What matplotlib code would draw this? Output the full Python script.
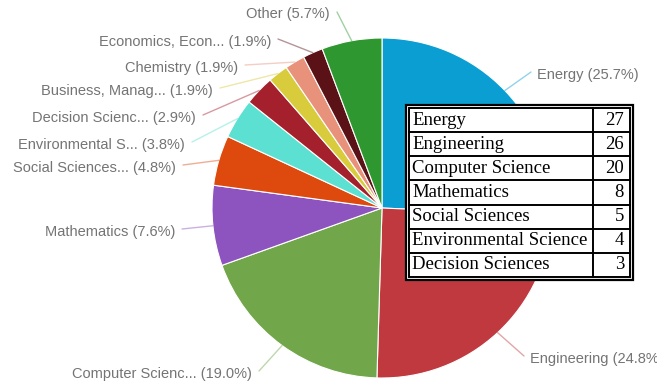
import numpy as np
import matplotlib
matplotlib.use("Agg")
import matplotlib.pyplot as plt
from matplotlib.patches import Rectangle

# slice data (counts out of 105 documents)
subjects = ["Energy", "Engineering", "Computer Science", "Mathematics",
            "Social Sciences", "Environmental Science", "Decision Sciences",
            "Business, Management", "Chemistry", "Economics, Econometrics", "Other"]
short_names = ["Energy", "Engineering", "Computer Scienc...", "Mathematics",
               "Social Sciences...", "Environmental S...", "Decision Scienc...",
               "Business, Manag...", "Chemistry", "Economics, Econ...", "Other"]
counts = [27, 26, 20, 8, 5, 4, 3, 2, 2, 2, 6]
colors = ["#0b9ed2", "#c0393f", "#72a64a", "#8d53bf", "#de4a0e", "#5ce0d2",
          "#a5202d", "#d8cc3c", "#e8917b", "#5a1216", "#2f9730"]

# table content
table_names = ["Energy", "Engineering", "Computer Science", "Mathematics",
               "Social Sciences", "Environmental Science", "Decision Sciences"]
table_counts = [27, 26, 20, 8, 5, 4, 3]

# layout (pixel coordinates, y downward)
W, H = 657, 385
CX, CY, R = 382, 208, 170
label_pos = [(537, 75, "left"), (530, 359, "left"), (252, 374, "right"),
             (175, 232, "right"), (176, 168, "right"), (185, 145, "right"),
             (196, 118, "right"), (213, 91, "right"), (238, 68, "right"),
             (271, 42, "right"), (330, 14, "right")]


def main() -> None:
    fig = plt.figure(figsize=(W / 100, H / 100), dpi=100)
    ax = fig.add_axes([0, 0, 1, 1])

    # y axis is inverted, so counterclock in data = clockwise on screen
    wedges, _ = ax.pie(counts, colors=colors, center=(CX, CY), radius=R,
                       startangle=-90, counterclock=True,
                       wedgeprops=dict(edgecolor="white", linewidth=0.8))

    total = sum(counts)
    cum = np.cumsum([0] + counts) / total
    for i, name in enumerate(short_names):
        mid = (cum[i] + cum[i + 1]) / 2 * 2 * np.pi
        ex = CX + R * np.sin(mid)
        ey = CY - R * np.cos(mid)
        tx, ty, ha = label_pos[i]
        lx = tx - 6 if ha == "left" else tx + 7
        if name == "Other":
            lx, ty_line = tx + 7, ty - 2
        else:
            ty_line = ty - 3
        ax.plot([ex, lx], [ey, ty_line], color=colors[i], alpha=0.45, lw=1.0,
                solid_capstyle="round")
        ax.text(tx, ty, f"{name} ({100 * counts[i] / total:.1f}%)", ha=ha,
                va="center", fontsize=10.5, color="#747474",
                family=["Liberation Sans", "DejaVu Sans"])

    # table drawn like an html table with double border
    x0, x1, xd = 406, 633, 593
    y0, y1 = 105, 280
    ax.add_patch(Rectangle((x0, y0), x1 - x0, y1 - y0, facecolor="white",
                           edgecolor="black", lw=1.6, zorder=5))
    ix0, ix1, iy0, iy1 = x0 + 3, x1 - 3, y0 + 3, y1 - 3
    ax.add_patch(Rectangle((ix0, iy0), ix1 - ix0, iy1 - iy0, facecolor="none",
                           edgecolor="black", lw=1.4, zorder=6))
    rh = (iy1 - iy0) / len(table_names)
    for j in range(1, len(table_names)):
        ax.plot([ix0, ix1], [iy0 + j * rh] * 2, color="black", lw=1.4, zorder=6)
    ax.plot([xd, xd], [iy0, iy1], color="black", lw=1.4, zorder=6)
    for j, (n, c) in enumerate(zip(table_names, table_counts)):
        yc = iy0 + (j + 0.5) * rh
        ax.text(ix0 + 3, yc, n, ha="left", va="center", fontsize=13.5,
                family="Liberation Serif", zorder=7)
        ax.text(ix1 - 6, yc, str(c), ha="right", va="center", fontsize=13.5,
                family="Liberation Serif", zorder=7)

    ax.set_xlim(0, W)
    ax.set_ylim(H, 0)
    ax.axis("off")
    fig.savefig("out.png", dpi=100)


if __name__ == "__main__":
    main()
